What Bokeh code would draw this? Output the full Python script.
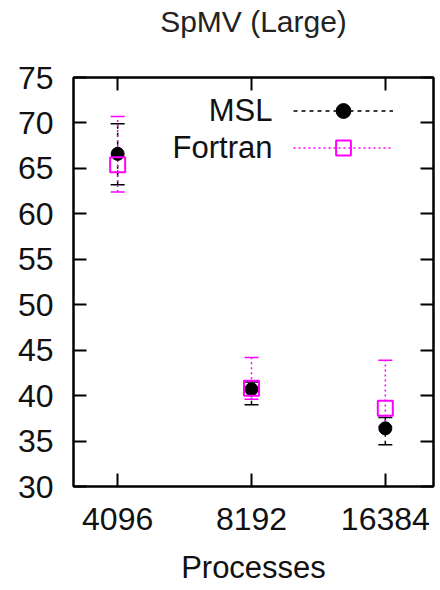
from bokeh.plotting import figure
from bokeh.models import (Range1d, FixedTicker, LinearAxis, Label,
                          ColumnDataSource, Legend, LegendItem)
from bokeh.embed import file_html
from bokeh.resources import INLINE

# ---- data ----
processes = ["4096", "8192", "16384"]
msl = [66.6, 40.7, 36.4]
msl_lo = [63.2, 39.0, 34.6]
msl_hi = [69.9, 41.5, 37.6]
fortran = [65.4, 40.8, 38.6]
fortran_lo = [62.4, 39.6, 36.6]
fortran_hi = [70.7, 44.2, 43.9]
y_ticks = [30, 35, 40, 45, 50, 55, 60, 65, 70, 75]
series_names = ["MSL", "Fortran"]
title_text = "SpMV (Large)"

FONT = "Liberation Sans"
MAGENTA = "#ff00ff"

xpos = list(range(len(processes)))
src_m = ColumnDataSource(dict(x=xpos, y=msl, lo=msl_lo, hi=msl_hi))
src_f = ColumnDataSource(dict(x=xpos, y=fortran, lo=fortran_lo, hi=fortran_hi))

p = figure(width=438, height=588, output_backend="svg", toolbar_location=None,
           x_range=Range1d(-0.33, 2.36), y_range=Range1d(30, 75),
           min_border_left=73, min_border_right=5, min_border_top=77,
           min_border_bottom=102)

p.background_fill_color = "white"
p.border_fill_color = "white"
p.outline_line_color = "black"
p.outline_line_width = 2
p.grid.visible = False

xt = FixedTicker(ticks=xpos)
yt = FixedTicker(ticks=y_ticks)
overrides = {i: lab for i, lab in enumerate(processes)}

for ax in p.xaxis:
    ax.ticker = xt
    ax.major_label_overrides = overrides
for ax in p.yaxis:
    ax.ticker = yt

for ax in list(p.xaxis) + list(p.yaxis):
    ax.major_tick_in = 13
    ax.major_tick_out = 0
    ax.minor_tick_line_color = None
    ax.axis_line_width = 2
    ax.major_tick_line_width = 2
    ax.major_label_text_font = FONT
    ax.major_label_text_font_size = "32px"
    ax.major_label_text_color = "#111111"
p.xaxis.major_label_standoff = 21
p.yaxis.major_label_standoff = 20

p.xaxis.axis_label = "Processes"
p.xaxis.axis_label_text_font = FONT
p.xaxis.axis_label_text_font_size = "31px"
p.xaxis.axis_label_text_font_style = "normal"
p.xaxis.axis_label_text_color = "#111111"
p.xaxis.axis_label_standoff = 17

# mirrored ticks (top and right), no tick labels; the top axis carries the title
top = LinearAxis(ticker=xt, major_label_text_color=None, major_label_text_font_size="1px",
                 major_label_standoff=0, major_tick_in=13, major_tick_out=0,
                 minor_tick_line_color=None, axis_line_width=2, major_tick_line_width=2,
                 axis_label=title_text, axis_label_text_font=FONT,
                 axis_label_text_font_size="30px", axis_label_text_font_style="normal",
                 axis_label_text_color="#222222", axis_label_standoff=40)
right = LinearAxis(ticker=yt, major_label_text_color=None, major_label_text_font_size="1px",
                   major_label_standoff=0, major_tick_in=13, major_tick_out=0,
                   minor_tick_line_color=None, axis_line_width=2, major_tick_line_width=2)
p.add_layout(top, "above")
p.add_layout(right, "right")

# ---- MSL ----
m_stem = p.segment(x0="x", y0="lo", x1="x", y1="hi", source=src_m,
                   line_color="black", line_width=1.5, line_dash="4 4")
p.scatter(x="x", y="lo", source=src_m, marker="dash", size=14,
          line_color="black", line_width=1.5)
p.scatter(x="x", y="hi", source=src_m, marker="dash", size=14,
          line_color="black", line_width=1.5)

# ---- Fortran ----
f_stem = p.segment(x0="x", y0="lo", x1="x", y1="hi", source=src_f,
                   line_color=MAGENTA, line_width=1.5, line_dash="2 3")
p.scatter(x="x", y="lo", source=src_f, marker="dash", size=14,
          line_color=MAGENTA, line_width=1.5)
p.scatter(x="x", y="hi", source=src_f, marker="dash", size=14,
          line_color=MAGENTA, line_width=1.5)

m_pt = p.scatter(x="x", y="y", source=src_m, marker="circle", size=13,
                 fill_color="black", line_color="black")
f_pt = p.scatter(x="x", y="y", source=src_f, marker="square", size=15,
                 fill_color=None, line_color=MAGENTA, line_width=2)

# legend keys (glyph samples); labels drawn to their left
legend = Legend(items=[LegendItem(label=" ", renderers=[m_stem, m_pt]),
                       LegendItem(label=" ", renderers=[f_stem, f_pt])],
                location=(220, 320), orientation="vertical",
                glyph_width=100, glyph_height=37, label_height=37, label_width=0,
                label_standoff=0, spacing=0, padding=0, margin=0,
                border_line_color=None, background_fill_alpha=0,
                label_text_font_size="1px")
p.add_layout(legend)

for name, ypix in zip(series_names, [376, 339]):
    p.add_layout(Label(x=199, y=ypix, x_units="screen", y_units="screen",
                       text=name, text_align="right", text_baseline="middle",
                       text_font=FONT, text_font_size="31px", text_color="#111111"))

open("out.html", "w").write(file_html(p, INLINE))
